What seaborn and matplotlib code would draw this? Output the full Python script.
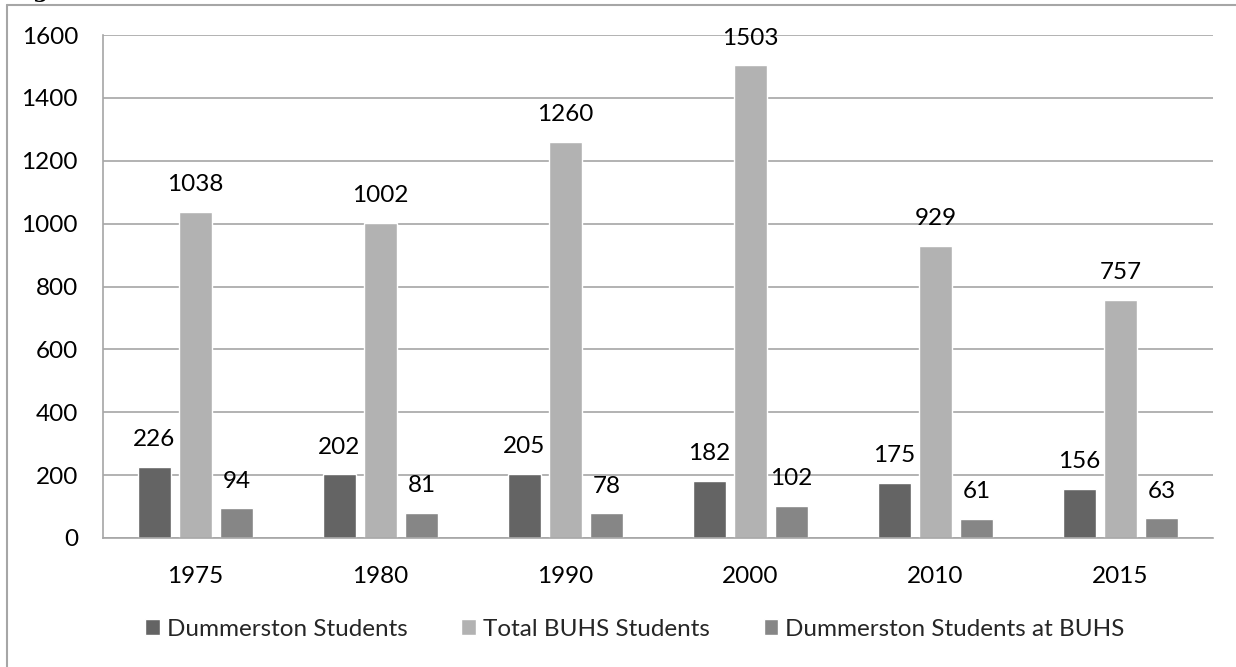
import matplotlib
matplotlib.use("Agg")
import matplotlib.pyplot as plt
import seaborn as sns
import pandas as pd
from matplotlib.lines import Line2D

years = ["1975", "1980", "1990", "2000", "2010", "2015"]
dummerston = [226, 202, 205, 182, 175, 156]
total_buhs = [1038, 1002, 1260, 1503, 929, 757]
dummerston_buhs = [94, 81, 78, 102, 61, 63]
series_names = ["Dummerston Students", "Total BUHS Students", "Dummerston Students at BUHS"]
yticks = [0, 200, 400, 600, 800, 1000, 1200, 1400, 1600]

colors = ["#646464", "#b2b2b2", "#868686"]

df = pd.DataFrame({
    "year": years * 3,
    "series": [series_names[0]] * 6 + [series_names[1]] * 6 + [series_names[2]] * 6,
    "value": dummerston + total_buhs + dummerston_buhs,
})

sns.set_theme(style="white")
plt.rcParams["font.family"] = ["Lato", "DejaVu Sans"]

FS = 17.5

fig = plt.figure(figsize=(12.36, 6.67), dpi=100)
ax = fig.add_axes([103 / 1236, 1 - 538 / 667, (1213 - 103) / 1236, (538 - 35) / 667])

sns.barplot(data=df, x="year", y="value", hue="series", hue_order=series_names,
            order=years, palette=colors, width=0.665, gap=0.21, ax=ax,
            saturation=1, errorbar=None, legend=True)

for cont in ax.containers:
    ax.bar_label(cont, padding=12, fontsize=FS, color="#000000")

ax.set_ylim(0, 1600)
ax.set_xlim(-0.5, 5.5)
ax.set_yticks(yticks)
ax.set_yticklabels([str(v) for v in yticks])
ax.yaxis.grid(True, color="#a6a6a6", linewidth=1.2)
ax.set_axisbelow(True)
ax.tick_params(axis="y", length=0, pad=18, labelsize=FS, labelcolor="#000000")
ax.tick_params(axis="x", length=0, pad=20, labelsize=FS, labelcolor="#000000")
ax.set_xlabel("")
ax.set_ylabel("")
for s in ["top", "right"]:
    ax.spines[s].set_visible(False)
for s in ["left", "bottom"]:
    ax.spines[s].set_color("#a6a6a6")
    ax.spines[s].set_linewidth(1.2)

handles, labels = ax.get_legend_handles_labels()
ax.legend_.remove()
fig.legend(handles, labels, loc="center", bbox_to_anchor=(635 / 1236, 1 - 629 / 667),
           ncol=3, frameon=False, fontsize=FS, handlelength=0.6, handleheight=0.6,
           handletextpad=0.3, columnspacing=2.2)

# outer frame lines (left and top)
fig.add_artist(Line2D([7 / 1236, 7 / 1236], [0, 1 - 5 / 667], color="#a6a6a6", linewidth=1.5,
                      transform=fig.transFigure))
fig.add_artist(Line2D([7 / 1236, 1], [1 - 5 / 667, 1 - 5 / 667], color="#a6a6a6", linewidth=1.5,
                      transform=fig.transFigure))
# cut-off caption fragment at top-left
fig.text(32 / 1236, 1 + 3 / 667, "g", fontsize=16, fontweight="bold", family=["DejaVu Serif"],
         va="baseline", ha="left", color="#000000")

fig.savefig("out.png", dpi=100)
